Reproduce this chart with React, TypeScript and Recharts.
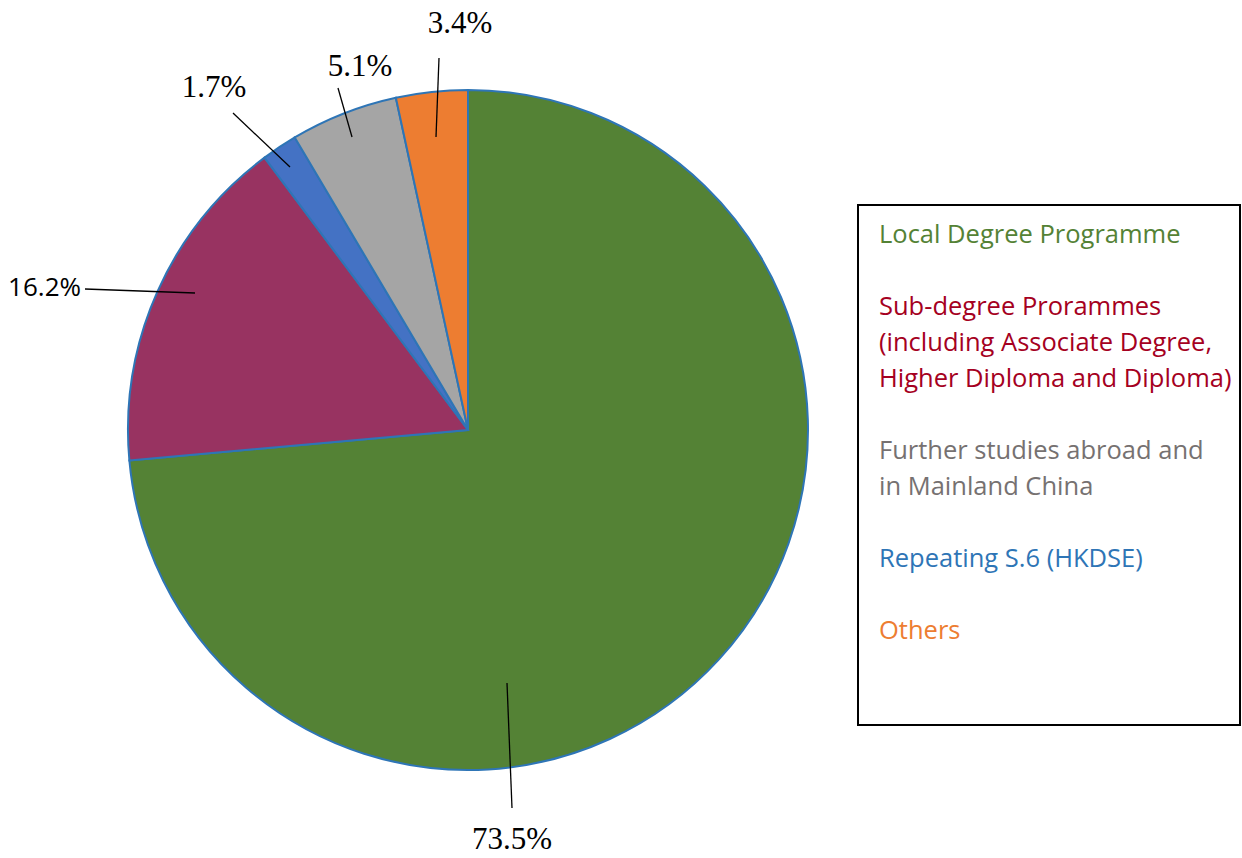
import { PieChart, Pie, Cell, Legend } from "recharts";

// Destinations of graduates, share in %
const categories = [
  "Local Degree Programme",
  "Sub-degree Prorammes (including Associate Degree, Higher Diploma and Diploma)",
  "Repeating S.6 (HKDSE)",
  "Further studies abroad and in Mainland China",
  "Others",
];
const shares = [73.5, 16.2, 1.7, 5.1, 3.4];
const sliceColors = ["#548235", "#983361", "#4472C4", "#A5A5A5", "#ED7D31"];

// legend is listed in a different order than the slices
const legendLines = [
  ["Local Degree Programme"],
  ["Sub-degree Prorammes", "(including Associate Degree,", "Higher Diploma and Diploma)"],
  ["Further studies abroad and", "in Mainland China"],
  ["Repeating S.6 (HKDSE)"],
  ["Others"],
];
const legendColors = ["#548235", "#A50021", "#767171", "#2E75B6", "#ED7D31"];

const data = categories.map((name, i) => ({ name, value: shares[i] }));

// hand-placed leader lines, offsets from the pie centre (like the original)
const labelLayout = [
  { line: [39, 253, 44, 378], text: [44, 419], anchor: "middle", serif: true },
  { line: [-383, -141, -273, -137], text: [-387, -134], anchor: "end", serif: false },
  { line: [-235, -317, -178, -263], text: [-254, -333], anchor: "middle", serif: true },
  { line: [-130, -342, -116, -293], text: [-108, -354], anchor: "middle", serif: true },
  { line: [-29, -372, -32, -293], text: [-8, -397], anchor: "middle", serif: true },
];

function renderLabel(props: any) {
  const { cx, cy, index, value } = props;
  const l = labelLayout[index];
  const [x1, y1, x2, y2] = l.line;
  return (
    <g key={`lbl-${index}`}>
      <line x1={cx + x1} y1={cy + y1} x2={cx + x2} y2={cy + y2} stroke="#000" strokeWidth={1.3} />
      <text x={cx + l.text[0]} y={cy + l.text[1]} textAnchor={l.anchor as any}
        fontFamily={l.serif ? "'Liberation Serif', 'Times New Roman', serif" : "'Open Sans', sans-serif"}
        fontSize={l.serif ? 31 : 26} fill="#000">
        {value.toFixed(1)}%
      </text>
    </g>
  );
}

function LegendBox() {
  let row = 0;
  const texts: any[] = [];
  legendLines.forEach((lines, i) => {
    lines.forEach((t, j) => {
      texts.push(
        <text key={`${i}-${j}`} x={22} y={39 + row * 36} fill={legendColors[i]}
          fontFamily="'Open Sans', sans-serif" fontSize={25.5}>{t}</text>
      );
      row++;
    });
    row++;
  });
  return (
    <svg width={384} height={522}>
      <rect x={1} y={1} width={382} height={520} fill="#fff" stroke="#000" strokeWidth={2} />
      {texts}
    </svg>
  );
}

export default function App() {
  return (
    <div style={{ position: "absolute", left: 0, top: 0, background: "#fff" }}>
      <PieChart width={1242} height={858} margin={{ top: 0, right: 0, bottom: 0, left: 0 }}>
        <Pie data={data} dataKey="value" nameKey="name" cx={468} cy={430}
          outerRadius={340} startAngle={90} endAngle={-270}
          stroke="#2E75B6" strokeWidth={2} label={renderLabel} labelLine={false}
          isAnimationActive={false}>
          {data.map((d, i) => <Cell key={d.name} fill={sliceColors[i]} />)}
        </Pie>
        <Legend content={() => <LegendBox />}
          wrapperStyle={{ position: "absolute", left: 857, top: 204, width: 384, height: 522 }} />
      </PieChart>
    </div>
  );
}
